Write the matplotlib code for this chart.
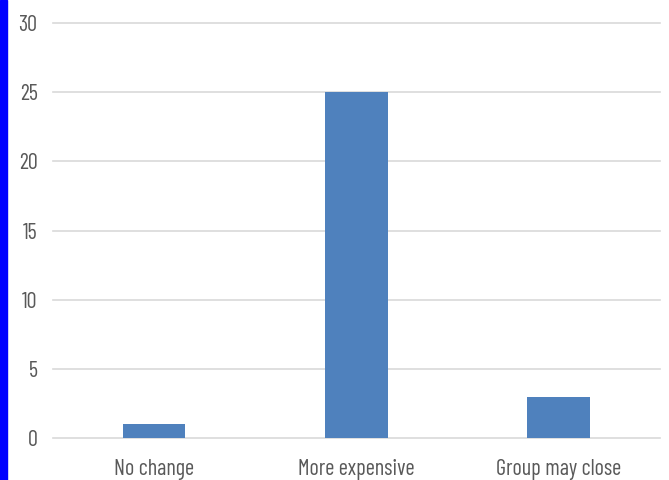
import matplotlib
matplotlib.use("Agg")
import matplotlib.pyplot as plt
from matplotlib.patches import Rectangle

categories = ["No change", "More expensive", "Group may close"]
values = [1, 25, 3]
yticks = [0, 5, 10, 15, 20, 25, 30]

plt.rcParams['font.family'] = ['Barlow Condensed', 'Fira Sans Extra Condensed',
                               'Roboto Condensed', 'DejaVu Sans']
plt.rcParams['font.weight'] = 'normal'

fig = plt.figure(figsize=(6.69, 4.8), dpi=100)
ax = fig.add_axes([0.079, 0.0875, 0.9075, 0.8645])

ax.bar(range(len(categories)), values, width=0.31, color='#4f81bd', zorder=3)
ax.set_xlim(-0.5, len(categories) - 0.5)
ax.set_ylim(0, 30)
ax.set_yticks(yticks)
ax.set_xticks(range(len(categories)))
ax.set_xticklabels(categories)
ax.grid(axis='y', color='#d9d9d9', linewidth=1.2, zorder=0)
for gl in ax.get_ygridlines():
    gl.set_clip_on(False)
ax.tick_params(length=0, labelsize=16, colors='#595959', pad=11)
ax.tick_params(axis='x', pad=15)
for s in ax.spines.values():
    s.set_visible(False)

# blue border strip on the left
fig.patches.append(Rectangle((0, 0), 7 / 669, 1, transform=fig.transFigure,
                             color='#0000ff', zorder=10))

fig.savefig("out.png", dpi=100)
